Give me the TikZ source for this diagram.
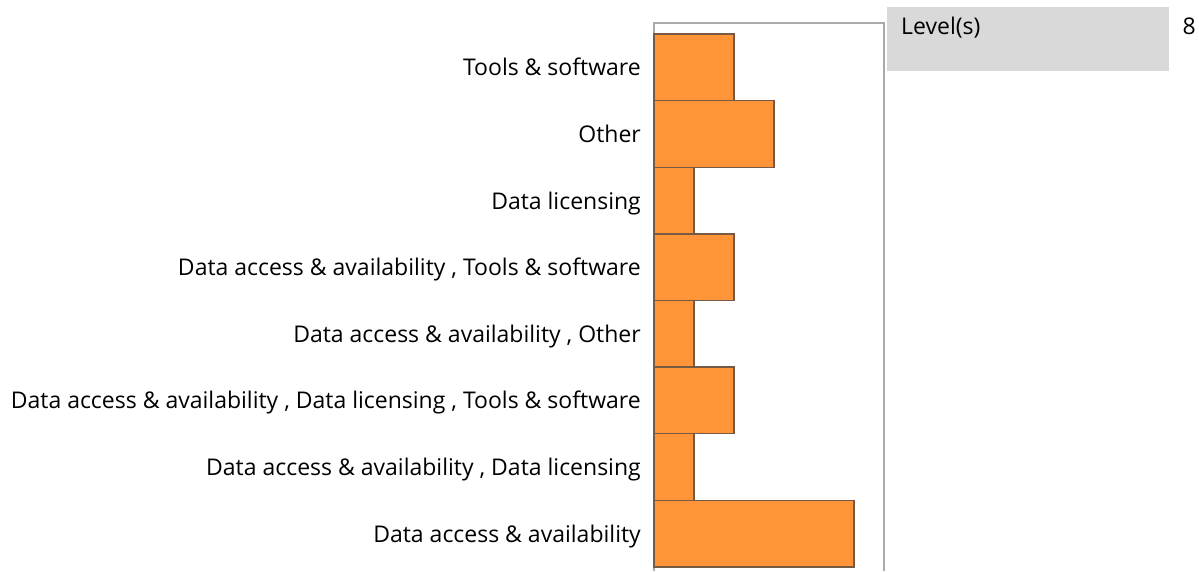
\documentclass[tikz,border=0pt]{standalone}
\usepackage{fontspec}
\setmainfont{Open Sans}
\definecolor{barfill}{HTML}{FF9438}
\definecolor{barline}{HTML}{765A45}
\definecolor{frame}{HTML}{AAAAAA}
\definecolor{legfill}{HTML}{D9D9D9}
\begin{document}
\begin{tikzpicture}[x=1pt,y=1pt,
  bar/.style={draw=barline,fill=barfill,line width=1.4pt},
  lab/.style={anchor=base east,inner sep=0pt,font=\fontsize{23}{27}\selectfont}]
\useasboundingbox (0,0) rectangle (1199,571);
% frame (no bottom edge)
\draw[frame,line width=1.3pt] (654,0) -- (654,548) -- (884,548) -- (884,0);
% bars: unit 40px, height 66.6
\def\h{66.625}
\foreach \i/\v/\t in {0/2/Tools \& software,1/3/Other,2/1/Data licensing,3/2/{Data access \& availability , Tools \& software},4/1/{Data access \& availability , Other},5/2/{Data access \& availability , Data licensing , Tools \& software},6/1/{Data access \& availability , Data licensing},7/5/Data access \& availability}{
  \pgfmathsetmacro{\ytop}{537-\i*\h}
  \pgfmathsetmacro{\ybot}{\ytop-\h}
  \pgfmathsetmacro{\ymid}{\ytop-\h/2-8.5}
  \pgfmathsetmacro{\xr}{654+\v*40}
  \draw[bar] (654,\ybot) rectangle (\xr,\ytop);
  \node[lab] (l\i) at (641,\ymid) {\t};
}
% legend
\node[fill=legfill,minimum width=282pt,minimum height=64pt,inner sep=0pt,anchor=north west] (leg) at (887,564) {};
\node[anchor=base west,inner sep=0pt,font=\fontsize{23}{27}\selectfont] (levt) at (901,536) {Level(s)};
\node[anchor=base east,inner sep=0pt,font=\fontsize{23}{27}\selectfont] (eight) at (1196,536) {8};
\end{tikzpicture}
\end{document}
